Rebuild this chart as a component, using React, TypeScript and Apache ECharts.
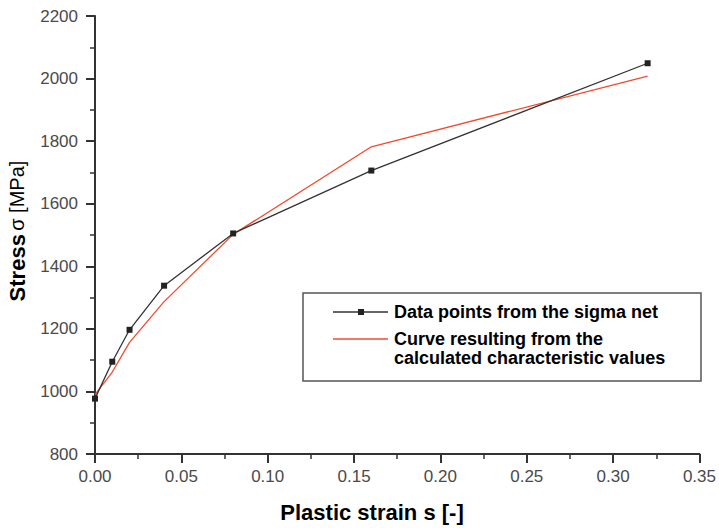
import React, { useEffect, useRef } from "react";
import * as echarts from "echarts";

const strainPoints = [0, 0.01, 0.02, 0.04, 0.08, 0.16, 0.32];
const sigmaNetStress = [977, 1095, 1197, 1338, 1505, 1706, 2049];
const calcStrain = [0, 0.01, 0.02, 0.04, 0.08, 0.16, 0.32];
const calcStress = [990, 1062, 1157, 1287, 1502, 1782, 2008];
const xTicks = { min: 0, max: 0.35, interval: 0.05 };
const yTicks = { min: 800, max: 2200, interval: 200 };
const legendNames = [
  "Data points from the sigma net",
  "Curve resulting from the",
  "calculated characteristic values",
];
const xTitle = "Plastic strain s [-]";

const FONT = "'Liberation Sans', Arial, Helvetica, sans-serif";
const BLACK = "#222222";
const RED = "#f24a2c";

const tickAxisParts = () => ({
  axisLine: { show: true, lineStyle: { color: "#333333", width: 2 } },
  axisTick: { show: true, length: 9, lineStyle: { color: "#333333", width: 2 } },
  minorTick: { show: true, splitNumber: 2, length: 5, lineStyle: { color: "#333333", width: 1.5 } },
  splitLine: { show: false },
  axisLabel: { show: false },
});

const labelAxisParts = () => ({
  axisLine: { show: false },
  axisTick: { show: false },
  minorTick: { show: false },
  splitLine: { show: false },
});

export default function App() {
  const ref = useRef<HTMLDivElement>(null);
  useEffect(() => {
    if (!ref.current) return;
    const chart = echarts.init(ref.current, null, { renderer: "svg" });
    chart.setOption({
      animation: false,
      backgroundColor: "#ffffff",
      grid: { left: 95, right: 18, top: 16, bottom: 74 },
      xAxis: [
        {
          type: "value",
          position: "bottom",
          min: xTicks.min,
          max: xTicks.max,
          interval: xTicks.interval,
          ...labelAxisParts(),
          axisLabel: {
            color: "#4a4a4a",
            fontSize: 17,
            fontFamily: FONT,
            margin: 14,
            formatter: (v: number) => v.toFixed(2),
          },
        },
        {
          type: "value",
          position: "bottom",
          min: xTicks.min,
          max: xTicks.max,
          interval: xTicks.interval,
          ...tickAxisParts(),
        },
      ],
      yAxis: [
        {
          type: "value",
          position: "left",
          min: yTicks.min,
          max: yTicks.max,
          interval: yTicks.interval,
          ...labelAxisParts(),
          axisLabel: {
            color: "#4a4a4a",
            fontSize: 17,
            fontFamily: FONT,
            margin: 17,
            formatter: (v: number) => String(v),
          },
        },
        {
          type: "value",
          position: "left",
          min: yTicks.min,
          max: yTicks.max,
          interval: yTicks.interval,
          ...tickAxisParts(),
        },
      ],
      series: [
        {
          name: legendNames[0],
          type: "line",
          xAxisIndex: 0,
          yAxisIndex: 0,
          data: strainPoints.map((x, i) => [x, sigmaNetStress[i]]),
          symbol: "rect",
          symbolSize: 6,
          itemStyle: { color: BLACK },
          lineStyle: { color: "#333", width: 1.3 },
          z: 3,
        },
        {
          name: legendNames[1] + " " + legendNames[2],
          type: "line",
          xAxisIndex: 0,
          yAxisIndex: 0,
          data: calcStrain.map((x, i) => [x, calcStress[i]]),
          showSymbol: false,
          symbol: "none",
          lineStyle: { color: RED, width: 1.3 },
          z: 2,
        },
      ],
      graphic: [
        {
          type: "text",
          x: 17,
          y: 231,
          rotation: Math.PI / 2,
          style: {
            text: "{b|Stress} {n|σ [MPa]}",
            align: "center",
            verticalAlign: "middle",
            rich: {
              b: { fontSize: 22, fontWeight: "bold", fontFamily: FONT, fill: "#000" },
              n: { fontSize: 20, fontWeight: "normal", fontFamily: FONT, fill: "#000" },
            },
          },
        },
        {
          type: "text",
          x: 372,
          y: 512,
          style: {
            text: xTitle,
            align: "center",
            verticalAlign: "middle",
            fontSize: 22,
            fontWeight: "bold",
            fontFamily: FONT,
            fill: "#000",
          },
        },
        {
          type: "group",
          z: 10,
          children: [
            {
              type: "rect",
              shape: { x: 303, y: 293, width: 398, height: 88 },
              style: { fill: "#fff", stroke: "#555", lineWidth: 1.5 },
            },
            {
              type: "line",
              shape: { x1: 333, y1: 312, x2: 388, y2: 312 },
              style: { stroke: "#333", lineWidth: 1.3 },
            },
            {
              type: "rect",
              shape: { x: 358, y: 309, width: 6, height: 6 },
              style: { fill: BLACK },
            },
            {
              type: "text",
              x: 394,
              y: 312,
              style: {
                text: legendNames[0],
                verticalAlign: "middle",
                fontSize: 18,
                fontWeight: "bold",
                fontFamily: FONT,
                fill: "#000",
              },
            },
            {
              type: "line",
              shape: { x1: 333, y1: 339, x2: 388, y2: 339 },
              style: { stroke: RED, lineWidth: 1.3 },
            },
            {
              type: "text",
              x: 394,
              y: 339,
              style: {
                text: legendNames[1],
                verticalAlign: "middle",
                fontSize: 18,
                fontWeight: "bold",
                fontFamily: FONT,
                fill: "#000",
              },
            },
            {
              type: "text",
              x: 394,
              y: 358,
              style: {
                text: legendNames[2],
                verticalAlign: "middle",
                fontSize: 18,
                fontWeight: "bold",
                fontFamily: FONT,
                fill: "#000",
              },
            },
          ],
        },
      ],
    });
    return () => chart.dispose();
  }, []);
  return (
    <div
      ref={ref}
      style={{ position: "fixed", left: 0, top: 0, width: 719, height: 528 }}
    />
  );
}
